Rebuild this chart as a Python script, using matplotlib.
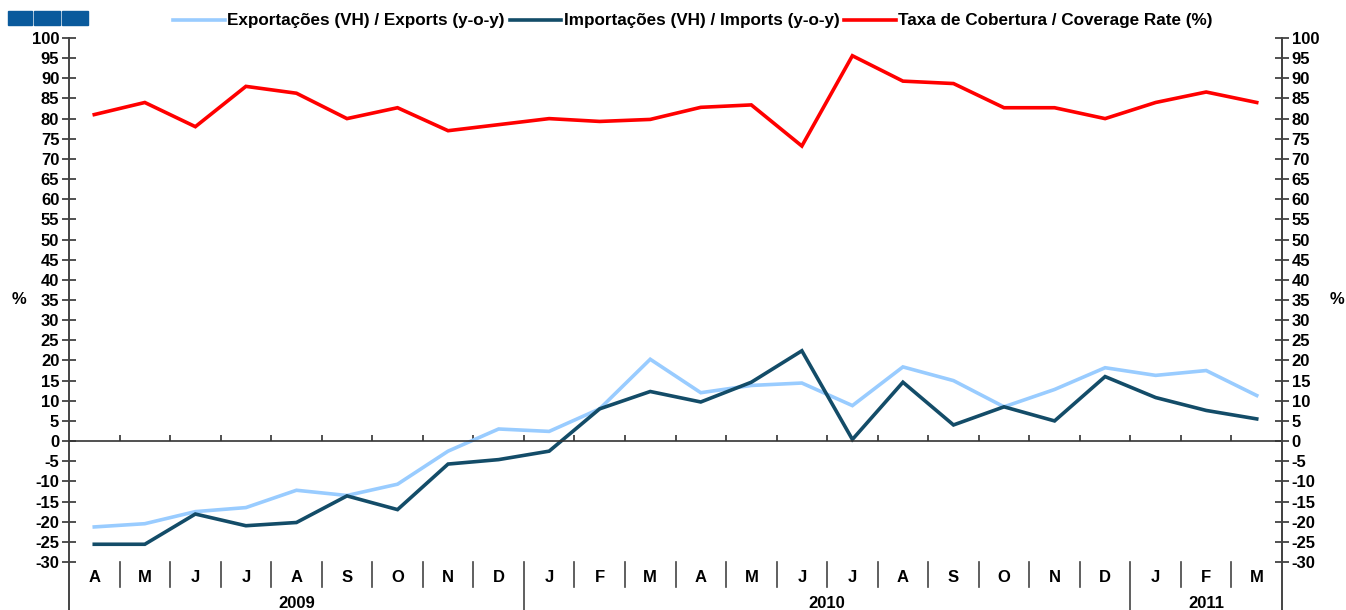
import matplotlib
matplotlib.use("Agg")
import matplotlib.pyplot as plt
from matplotlib.patches import Rectangle
import matplotlib.transforms as mtransforms

months = ["A", "M", "J", "J", "A", "S", "O", "N", "D",
          "J", "F", "M", "A", "M", "J", "J", "A", "S", "O", "N", "D",
          "J", "F", "M"]
years = ["2009", "2010", "2011"]
year_counts = [9, 12, 3]

exports = [-21.3, -20.5, -17.5, -16.5, -12.2, -13.5, -10.7, -2.5, 3.0,
           2.4, 8.0, 20.3, 12.0, 13.8, 14.4, 8.8, 18.4, 15.0, 8.5, 12.8, 18.2,
           16.3, 17.5, 11.3]
imports = [-25.6, -25.6, -18.1, -21.0, -20.2, -13.6, -17.0, -5.7, -4.6,
           -2.5, 8.0, 12.3, 9.7, 14.6, 22.4, 0.4, 14.6, 4.0, 8.5, 5.0, 16.0,
           10.8, 7.6, 5.5]
coverage = [81.0, 84.0, 78.0, 88.0, 86.3, 80.0, 82.7, 77.0, 78.5,
            80.0, 79.3, 79.8, 82.8, 83.4, 73.2, 95.6, 89.3, 88.7, 82.7, 82.7, 80.0,
            84.0, 86.6, 84.0]

labels = ["Exportações (VH) / Exports (y-o-y)",
          "Importações (VH) / Imports (y-o-y)",
          "Taxa de Cobertura / Coverage Rate (%)"]
colors = ["#99ccff", "#134c68", "#ff0000"]

plt.rcParams['font.family'] = ['Liberation Sans', 'DejaVu Sans']
plt.rcParams['font.weight'] = 'bold'
FS = 12

W, H = 1346, 610
fig = plt.figure(figsize=(W / 100, H / 100), dpi=100)
L, R, T, B = 69, 1282, 38, 562
ax = fig.add_axes([L / W, 1 - B / H, (R - L) / W, (B - T) / H])

n = len(months)
xs = [i + 0.5 for i in range(n)]
h1, = ax.plot(xs, exports, color=colors[0], lw=2.6, label=labels[0], solid_joinstyle='miter')
h2, = ax.plot(xs, imports, color=colors[1], lw=2.6, label=labels[1], solid_joinstyle='miter')
h3, = ax.plot(xs, coverage, color=colors[2], lw=2.6, label=labels[2], solid_joinstyle='miter')

ax.set_xlim(0, n)
ax.set_ylim(-30, 100)
yt = list(range(-30, 101, 5))
ax.set_yticks(yt)
ax.set_yticklabels([str(v) for v in yt], fontsize=FS, fontweight='bold')
ax.tick_params(axis='y', direction='inout', length=10, width=1.2, color='#333333', pad=2)

ax.spines['top'].set_visible(False)
ax.spines['bottom'].set_position(('data', 0))
ax.spines['bottom'].set_color('#333333')
ax.spines['bottom'].set_linewidth(1.2)
ax.set_xticks(list(range(1, n)))
ax.set_xticklabels([])
ax.tick_params(axis='x', direction='in', length=4, width=1.2, color='#333333')
for s in ['left', 'right']:
    ax.spines[s].set_color('#444444')
    ax.spines[s].set_linewidth(1.4)

ax2 = ax.twinx()
ax2.set_ylim(-30, 100)
ax2.set_yticks(yt)
ax2.set_yticklabels([str(v) for v in yt], fontsize=FS, fontweight='bold')
ax2.tick_params(axis='y', direction='inout', length=10, width=1.2, color='#333333', pad=2)
for s in ['top', 'bottom', 'left']:
    ax2.spines[s].set_visible(False)
ax2.spines['right'].set_color('#444444')
ax2.spines['right'].set_linewidth(1.4)

# percent labels
bt = mtransforms.blended_transform_factory(ax.transAxes, ax.transData)
ax.text(-0.041, 35, "%", transform=bt, ha='center', va='center', fontsize=FS, fontweight='bold')
ax.text(1.045, 35, "%", transform=bt, ha='center', va='center', fontsize=FS, fontweight='bold')

# category axis below
ah = B - T
trans = mtransforms.blended_transform_factory(ax.transData, ax.transAxes)
sep_short = -25 / ah
sep_long = -48 / ah
for i, m in enumerate(months):
    ax.text(i + 0.5, -16 / ah, m, transform=trans, ha='center', va='center',
            fontsize=FS, fontweight='bold', clip_on=False)
year_bounds = []
acc = 0
for c in year_counts:
    year_bounds.append((acc, acc + c))
    acc += c
yb_set = set(b for _, b in year_bounds[:-1])
for b in range(1, n):
    yl = sep_long if b in yb_set else sep_short
    ax.plot([b, b], [0, yl], transform=trans, color='#444444', lw=1.2, clip_on=False)
for (a, b), y in zip(year_bounds, years):
    ax.text((a + b) / 2, -42 / ah, y, transform=trans, ha='center', va='center',
            fontsize=FS, fontweight='bold', clip_on=False)
for xa in [0, 1]:
    ax.plot([xa, xa], [0, sep_long], transform=ax.transAxes, color='#444444', lw=1.4, clip_on=False)

# legend
fig.legend(handles=[h1, h2, h3], loc='center', bbox_to_anchor=(693 / W, 1 - 21 / H), ncol=3,
           frameon=False, handlelength=3.0, handletextpad=0.15,
           columnspacing=0.3, prop={'weight': 'bold', 'size': 12.3})

# logo
for x0, x1 in [(8, 32), (34, 60), (62, 88)]:
    fig.patches.append(Rectangle((x0 / W, 1 - 25 / H), (x1 - x0) / W, 14 / H,
                                 transform=fig.transFigure, color='#0a5a9c'))

fig.savefig("out.png", dpi=100)
